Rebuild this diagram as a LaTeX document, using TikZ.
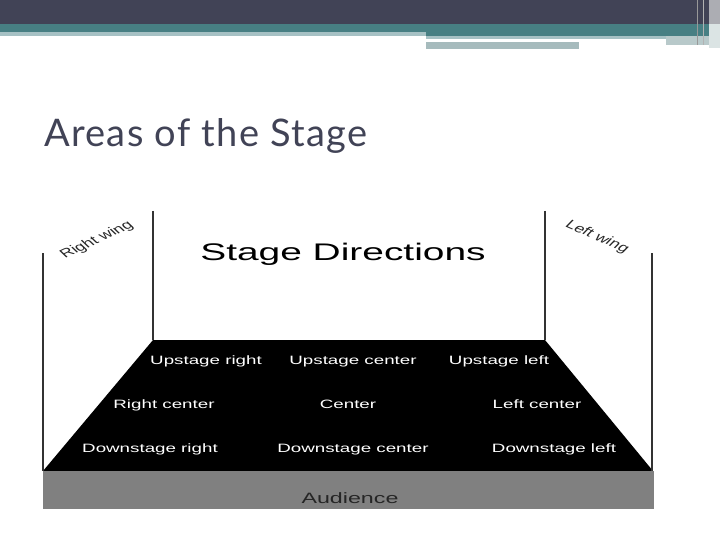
\documentclass[tikz,border=0pt]{standalone}
\usepackage{fontspec}
\usepackage{graphicx}
\setmainfont{Liberation Sans}
\newfontfamily\titlefont[LetterSpace=3.5]{Lato}

\definecolor{slate}{HTML}{414356}
\definecolor{teal}{HTML}{477F83}
\definecolor{paleteal}{HTML}{A6C1C4}
\definecolor{greyteal}{HTML}{A6BBBD}
\definecolor{audiencegrey}{HTML}{808080}

\newcommand{\widetext}[1]{\scalebox{1.55}[1]{#1}}

\begin{document}
\begin{tikzpicture}[
    x=1pt,
    y=-1pt,
    line cap=butt,
    line join=round,
    wall/.style={
        draw=black!80,
        line width=1.4pt
    },
    cell/.style={
        text=white,
        inner sep=0pt,
        anchor=base,
        font=\fontsize{12.1}{14}\selectfont
    },
    winglabel/.style={
        text=black!85,
        inner sep=0pt,
        font=\fontsize{12}{14}\selectfont
    }
]

\useasboundingbox (0,0) rectangle (720,540);
\fill[white] (0,0) rectangle (720,540);

% -------------------------------------------------
% Header bars
% -------------------------------------------------

\fill[slate] (0,0) rectangle (720,24);
\fill[teal] (0,24) rectangle (720,32);
\fill[paleteal] (0,32) rectangle (426,36);
\fill[teal] (426,32) rectangle (720,36);
\fill[paleteal] (426,36) rectangle (666,39);
\fill[greyteal] (426,42) rectangle (579,49);
\fill[greyteal!80] (666,36) rectangle (709,45);
\fill[greyteal!40] (709,24) rectangle (720,48);
\fill[black!25!slate!40] (709,0) rectangle (720,24);
\draw[black!40,line width=0.8pt] (697,0) -- (697,45);
\draw[black!30,line width=0.8pt] (703,0) -- (703,45);

% -------------------------------------------------
% Title
% -------------------------------------------------

\node[anchor=base west,inner sep=0pt,text=slate,
    font=\titlefont\fontsize{38}{44}\selectfont] (title) at (44,147)
    {Areas of the Stage};

% -------------------------------------------------
% Stage floor and audience
% -------------------------------------------------

\fill[black] (153,340) -- (545,340) -- (653,471) -- (43,471) -- cycle;
\fill[audiencegrey] (43,471) rectangle (654,509);

% -------------------------------------------------
% Wings and back walls
% -------------------------------------------------

\draw[wall] (43,253) -- (43,471);
\draw[wall] (153,211) -- (153,340);
\draw[wall] (545,211) -- (545,340);
\draw[wall] (652,253) -- (652,471);

% -------------------------------------------------
% Labels
% -------------------------------------------------

\node[anchor=base,inner sep=0pt,font=\fontsize{24}{30}\selectfont]
    (heading) at (343,260) {\scalebox{1.62}[1]{Stage Directions}};

\node[winglabel] (rwing) at (97,240)
    {\scalebox{1.5}[1]{\rotatebox{35}{Right wing}}};
\node[winglabel] (lwing) at (597,237)
    {\scalebox{1.5}[1]{\rotatebox{-33}{Left wing}}};

\node[cell] (usr) at (206,364.5) {\widetext{Upstage right}};
\node[cell] (usc) at (353,364.5) {\widetext{Upstage center}};
\node[cell] (usl) at (499,364.5) {\widetext{Upstage left}};

\node[cell] (rc) at (164,408) {\widetext{Right center}};
\node[cell] (c) at (348,408) {\widetext{Center}};
\node[cell] (lc) at (537,408) {\widetext{Left center}};

\node[cell] (dsr) at (150,452.5) {\widetext{Downstage right}};
\node[cell] (dsc) at (353,452.5) {\widetext{Downstage center}};
\node[cell] (dsl) at (554,452.5) {\widetext{Downstage left}};

\node[anchor=base,inner sep=0pt,text=black!85,font=\fontsize{15}{18}\selectfont]
    (audience) at (350,503.5) {\widetext{Audience}};

\end{tikzpicture}
\end{document}
